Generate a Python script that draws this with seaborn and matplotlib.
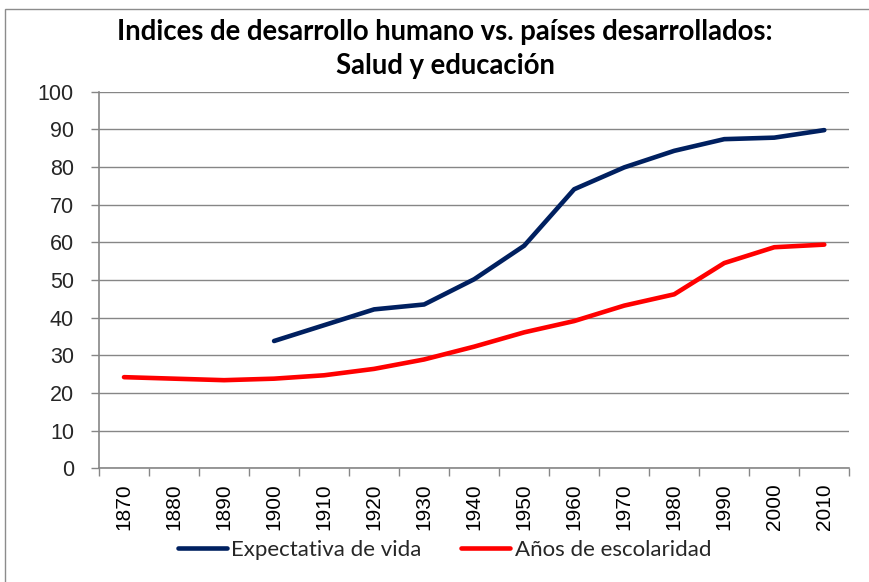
import numpy as np
import pandas as pd
import matplotlib
matplotlib.use("Agg")
import matplotlib.pyplot as plt
from matplotlib.patches import Rectangle
from matplotlib.ticker import FixedLocator, NullFormatter
import seaborn as sns

years = [1870, 1880, 1890, 1900, 1910, 1920, 1930, 1940, 1950, 1960, 1970, 1980, 1990, 2000, 2010]
expectativa = [np.nan, np.nan, np.nan, 33.8, 38.0, 42.2, 43.5, 50.2, 59.1, 74.1, 79.9, 84.3, 87.4, 87.8, 89.8]
escolaridad = [24.2, 23.8, 23.4, 23.8, 24.7, 26.4, 28.9, 32.3, 36.1, 39.1, 43.2, 46.2, 54.5, 58.7, 59.4]
series_names = ["Expectativa de vida", "Años de escolaridad"]
title_text = "Indices de desarrollo humano vs. países desarrollados:\nSalud y educación"

df = pd.DataFrame({"year": years * 2,
                   "value": expectativa + escolaridad,
                   "serie": [series_names[0]] * len(years) + [series_names[1]] * len(years)})

sns.set_theme(style="white")
plt.rcParams["font.family"] = ["Lato", "DejaVu Sans"]

fig = plt.figure(figsize=(8.7, 5.82), dpi=100)
ax = fig.add_axes([99 / 870, 1 - 468.3 / 582, (849.3 - 99) / 870, (468.3 - 91.7) / 582])

grid_c = "#868686"
sns.lineplot(data=df, x="year", y="value", hue="serie", hue_order=series_names,
             palette=["#002060", "#FF0000"], linewidth=3.3, ax=ax, legend=True,
             estimator=None, sort=True)
for ln in ax.get_lines():
    ln.set_solid_capstyle("round")
    ln.set_solid_joinstyle("round")

ax.set_xlim(1865, 2015)
ax.set_ylim(0, 100)
ax.set_yticks(range(0, 101, 10))
ax.yaxis.grid(True, color=grid_c, linewidth=1.0)
ax.xaxis.grid(False)
ax.set_axisbelow(True)

ax.xaxis.set_major_locator(FixedLocator([y - 5 for y in years] + [years[-1] + 5]))
ax.xaxis.set_major_formatter(NullFormatter())
ax.xaxis.set_minor_locator(FixedLocator(years))
ax.set_xticklabels([str(y) for y in years], minor=True, rotation=90,
                   fontfamily="Liberation Sans", fontsize=15, color="black")
ax.tick_params(axis="x", which="major", direction="out", length=6, width=1, color=grid_c, bottom=True)
ax.tick_params(axis="x", which="minor", length=0, pad=11, bottom=True)
ax.tick_params(axis="y", direction="out", length=6, width=1, color=grid_c, left=True, pad=12,
               labelsize=15.5)
for lab in ax.get_yticklabels():
    lab.set_fontfamily("Liberation Sans")

for s in ["top", "right"]:
    ax.spines[s].set_visible(False)
for s in ["left", "bottom"]:
    ax.spines[s].set_color(grid_c)
    ax.spines[s].set_linewidth(1.2)

ax.set_xlabel("")
ax.set_ylabel("")

handles, labels = ax.get_legend_handles_labels()
ax.get_legend().remove()
fig.legend(handles, labels, loc="center", bbox_to_anchor=(444.5 / 870, 1 - 550 / 582),
           ncol=2, frameon=False, fontsize=16, handlelength=2.2, handletextpad=0.2,
           columnspacing=1.8, borderpad=0)

fig.text(445 / 870, 1 - 49 / 582, title_text, ha="center", va="center",
         fontsize=19.8, fontweight="bold", linespacing=1.38, color="black")

fig.patches.append(Rectangle((5 / 870, -0.1), 1.2, 1 - 9 / 582 + 0.1, transform=fig.transFigure,
                             fill=False, edgecolor="#8c8c8c", linewidth=1.0))

fig.savefig("out.png", dpi=100)
